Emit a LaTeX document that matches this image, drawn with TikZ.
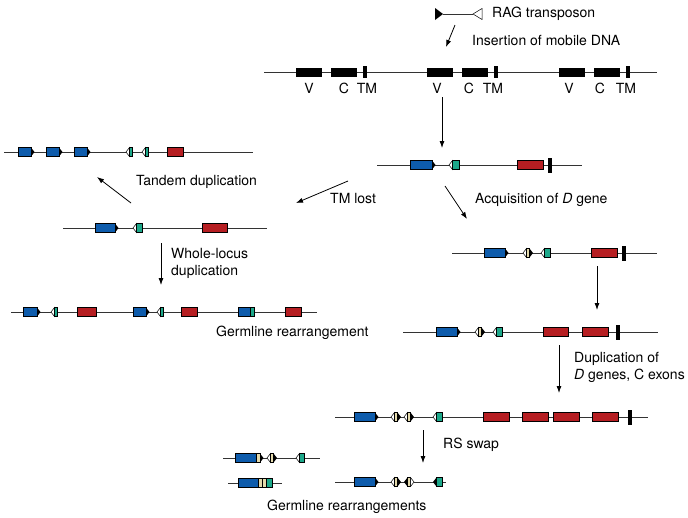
\documentclass[tikz,border=0pt]{standalone}
\usepackage{fontspec}
\setmainfont{TeX Gyre Heros}
\usetikzlibrary{arrows.meta}

\definecolor{vblue}{RGB}{14,92,172}
\definecolor{jgreen}{RGB}{28,168,138}
\definecolor{cred}{RGB}{182,30,34}
\definecolor{dcream}{RGB}{228,218,172}

\tikzset{
  locus/.style={draw=black!80,line width=0.7pt},
  box/.style={draw=black,line width=0.5pt},
  stage arrow/.style={-{Latex[length=7pt,width=5pt]},line width=0.8pt},
  lbl/.style={font=\fontsize{14}{17}\selectfont,inner sep=0pt,anchor=west,align=left},
  tag/.style={font=\fontsize{14}{17}\selectfont,inner sep=0pt}
}

% gene segments: x1, x2, y
\newcommand{\Vseg}[3]{%
  \draw[box,fill=vblue] (#1,#3-4.5) rectangle (#2,#3+4.5);
  \fill (#2,#3-4.5) -- (#2+3.5,#3) -- (#2,#3+4.5) -- cycle;}
\newcommand{\Jseg}[3]{%
  \draw[box,fill=white] (#1,#3) -- (#1+3.5,#3-4.5) -- (#1+3.5,#3+4.5) -- cycle;
  \draw[box,fill=jgreen] (#1+3.5,#3-4.5) rectangle (#2,#3+4.5);}
\newcommand{\Jsegb}[3]{%
  \fill (#1,#3) -- (#1+3.5,#3-4.5) -- (#1+3.5,#3+4.5) -- cycle;
  \draw[box,fill=jgreen] (#1+3.5,#3-4.5) rectangle (#2,#3+4.5);}
\newcommand{\Cex}[3]{%
  \draw[box,fill=cred] (#1,#3-4.5) rectangle (#2,#3+4.5);}
% D segment: centre x, y
\newcommand{\Dseg}[2]{%
  \draw[box,fill=white] (#1-1.5,#2-4.5) -- (#1-5,#2) -- (#1-1.5,#2+4.5) -- cycle;
  \draw[box,fill=dcream] (#1-1.5,#2-4.5) rectangle (#1+1.5,#2+4.5);
  \fill (#1+1.5,#2-4.5) -- (#1+5,#2) -- (#1+1.5,#2+4.5) -- cycle;}
\newcommand{\Dsegr}[2]{%
  \fill (#1-1.5,#2-4.5) -- (#1-5,#2) -- (#1-1.5,#2+4.5) -- cycle;
  \draw[box,fill=dcream] (#1-1.5,#2-4.5) rectangle (#1+1.5,#2+4.5);
  \draw[box,fill=white] (#1+1.5,#2-4.5) -- (#1+5,#2) -- (#1+1.5,#2+4.5) -- cycle;}
\newcommand{\TMex}[2]{%
  \fill (#1,#2-7.5) rectangle (#1+4,#2+7.5);}

\begin{document}
\begin{tikzpicture}[x=1pt,y=-1pt]
  \useasboundingbox (0,0) rectangle (688,517);

  % RAG transposon
  \fill (435,8) -- (443,14) -- (435,20) -- cycle;
  \draw[locus] (443,14) -- (473,14);
  \draw[box,fill=white] (473,14) -- (482,8.5) -- (482,19.5) -- cycle;
  \node[lbl] (rag) at (492,14) {RAG transposon};
  \node[lbl] (insert) at (472,40) {Insertion of mobile DNA};

  % ancestral locus
  \draw[locus] (264,72) -- (657,72);
  \foreach \x/\vl/\cl/\tl/\k in {296/309/344/367/1,427/437/469/493/2,559/569/600/626/3}{
    \fill (\x,67.5) rectangle (\x+26,76.5);
    \fill (\x+35,67.5) rectangle (\x+61,76.5);
    \fill (\x+67,66) rectangle (\x+70.5,78);
    \node[tag] (v\k) at (\vl,88) {V};
    \node[tag] (c\k) at (\cl,88) {C};
    \node[tag] (tm\k) at (\tl,88) {TM};
  }

  % first V-J-C locus
  \draw[locus] (377,165) -- (582,165);
  \Vseg{410}{432}{165}
  \Jseg{449}{459}{165}
  \Cex{517}{543}{165}
  \TMex{548}{165}

  % TM lost
  \draw[locus] (63,228) -- (267,228);
  \Vseg{95}{115}{228}
  \Jseg{133}{142}{228}
  \Cex{202}{227}{228}
  \node[lbl] (tmlost) at (330,198) {TM lost};

  % tandem duplication
  \draw[locus] (4,152) -- (253,152);
  \foreach \x in {18,46,74}{
    \Vseg{\x}{\x+13}{152}
  }
  \Jseg{126}{132}{152}
  \Jseg{142}{148}{152}
  \Cex{167}{183}{152}
  \node[lbl] (tandem) at (136,182) {Tandem duplication};

  % whole-locus duplication
  \node[lbl] (wholelocus) at (171,263.5) {Whole-locus\\duplication};
  \draw[locus] (11,312) -- (317,312);
  \Vseg{23}{37}{312}
  \Jseg{51}{57}{312}
  \Cex{77}{96}{312}
  \Vseg{133}{146}{312}
  \Jseg{157}{163}{312}
  \Cex{181}{197}{312}
  \draw[box,fill=vblue] (238,307.5) rectangle (250,316.5);
  \draw[box,fill=jgreen] (250,307.5) rectangle (254,316.5);
  \Cex{285}{301}{312}
  \node[lbl] (germ) at (216,333) {Germline rearrangement};

  % acquisition of D
  \node[lbl] (acq) at (475,200) {Acquisition of \textit{D} gene};
  \draw[locus] (452,253) -- (657,253);
  \Vseg{484}{505}{253}
  \Dseg{528}{253}
  \Jseg{541}{550}{253}
  \Cex{591}{617}{253}
  \TMex{622}{253}

  % C duplicated
  \draw[locus] (403,332) -- (658,332);
  \Vseg{436}{457}{332}
  \Dseg{480}{332}
  \Jseg{493}{502}{332}
  \Cex{543}{568}{332}
  \Cex{582}{608}{332}
  \TMex{616}{332}

  % D genes and C exons duplicated
  \node[lbl] (dupdc) at (574,367.5) {Duplication of\\\textit{D} genes, C exons};
  \draw[locus] (335,417) -- (648,417);
  \Vseg{354}{375}{417}
  \Dseg{396}{417}
  \Dseg{409}{417}
  \Jseg{433}{442}{417}
  \foreach \x in {483,522,553,592}{
    \Cex{\x}{\x+26}{417}
  }
  \TMex{628}{417}

  % RS swap
  \node[lbl] (rsswap) at (443,445) {RS swap};
  \draw[locus] (335,482) -- (446,482);
  \Vseg{354}{375}{482}
  \Dseg{396}{482}
  \Dsegr{409}{482}
  \Jsegb{433}{442}{482}

  % germline rearrangements
  \draw[locus] (223,458) -- (320,458);
  \draw[box,fill=vblue] (235,453.5) rectangle (256,462.5);
  \draw[box,fill=dcream] (256,453.5) rectangle (260,462.5);
  \fill (260,453.5) -- (263.5,458) -- (260,462.5) -- cycle;
  \Dseg{272}{458}
  \Jseg{296}{304}{458}
  \draw[locus] (228,483) -- (282,483);
  \draw[box,fill=vblue] (238,478.5) rectangle (258,487.5);
  \draw[box,fill=dcream] (258,478.5) rectangle (262,487.5);
  \draw[box,fill=dcream] (262,478.5) rectangle (266,487.5);
  \draw[box,fill=jgreen] (266,478.5) rectangle (272,487.5);
  \node[lbl] (germs) at (267,507) {Germline rearrangements};

  % arrow ends
  \coordinate (a1s) at (455,25);  \coordinate (a1e) at (446,47);
  \coordinate (a2s) at (442,97);  \coordinate (a2e) at (442,148);
  \coordinate (a3s) at (348,181); \coordinate (a3e) at (296,203);
  \coordinate (a4s) at (131,203); \coordinate (a4e) at (97,177);
  \coordinate (a5s) at (161,243); \coordinate (a5e) at (161,285);
  \coordinate (a6s) at (445,186); \coordinate (a6e) at (467,219);
  \coordinate (a7s) at (597,266); \coordinate (a7e) at (597,310);
  \coordinate (a8s) at (559,345); \coordinate (a8e) at (559,393);
  \coordinate (a9s) at (423,430); \coordinate (a9e) at (423,463);
  \foreach \k in {1,...,9}{
    \draw[stage arrow] (a\k s) -- (a\k e);
  }

\end{tikzpicture}
\end{document}
